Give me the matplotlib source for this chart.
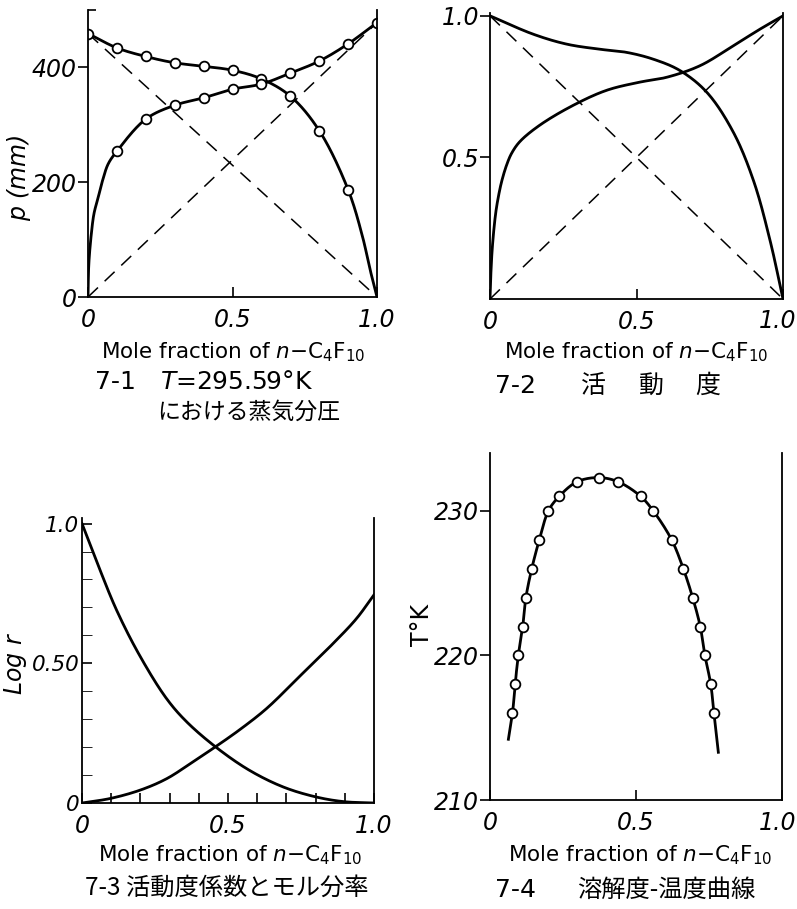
import matplotlib.pyplot as plt
import numpy as np

plt.rcParams['font.family'] = ['DejaVu Sans', 'Noto Sans CJK JP']
plt.rcParams['mathtext.fontset'] = 'dejavusans'
plt.rcParams['axes.linewidth'] = 1.3

#%% data
# 7-1 partial pressures (mm) vs mole fraction of n-C4F10
p1_mark_x = [0.0, 0.1, 0.2, 0.3, 0.4, 0.5, 0.6, 0.7, 0.8, 0.9]
p1_mark_y = [459, 434, 419, 408, 402, 395, 380, 350, 290, 187]
p1_line_x = [0.0, 0.1, 0.2, 0.3, 0.4, 0.5, 0.6, 0.7, 0.8, 0.9, 0.95, 0.975, 1.0]
p1_line_y = [459, 434, 419, 408, 402, 395, 380, 350, 290, 187, 105, 50, 0]

p2_mark_x = [0.1, 0.2, 0.3, 0.4, 0.5, 0.6, 0.7, 0.8, 0.9, 1.0]
p2_mark_y = [254, 310, 334, 347, 362, 371, 390, 411, 441, 478]
p2_line_x = [0.0, 0.003, 0.013, 0.021, 0.036, 0.051, 0.07, 0.1, 0.2, 0.3, 0.4, 0.5, 0.6, 0.7, 0.8, 0.9, 1.0]
p2_line_y = [0, 59, 117, 146, 175, 204, 232, 254, 310, 334, 347, 362, 371, 390, 411, 441, 478]

# 7-2 activities
a1_x = [0.0, 0.148, 0.262, 0.375, 0.466, 0.557, 0.648, 0.74, 0.83, 0.90, 0.956, 1.0]
a1_y = [1.0, 0.935, 0.90, 0.882, 0.871, 0.847, 0.807, 0.73, 0.59, 0.416, 0.206, 0.0]
a2_x = [0.0, 0.002, 0.008, 0.019, 0.028, 0.040, 0.057, 0.074, 0.102, 0.17,
        0.284, 0.398, 0.512, 0.603, 0.717, 0.83, 0.92, 1.0]
a2_y = [0.0, 0.066, 0.183, 0.30, 0.358, 0.416, 0.474, 0.515, 0.556, 0.614,
        0.684, 0.737, 0.766, 0.783, 0.824, 0.894, 0.952, 1.0]

# 7-3 log activity coefficients
g1_x = [0.0, 0.05, 0.119, 0.199, 0.29, 0.358, 0.461, 0.575, 0.69, 0.80, 0.895, 1.0]
g1_y = [1.0, 0.865, 0.689, 0.525, 0.373, 0.291, 0.198, 0.116, 0.057, 0.022, 0.005, 0.0]
g2_x = [0.0, 0.096, 0.199, 0.29, 0.381, 0.461, 0.541, 0.632, 0.747, 0.861, 0.94, 1.0]
g2_y = [0.0, 0.016, 0.046, 0.087, 0.148, 0.204, 0.263, 0.338, 0.455, 0.572, 0.66, 0.745]

# 7-4 solubility - temperature
s_mark_x = [0.077, 0.086, 0.097, 0.112, 0.123, 0.143, 0.169, 0.20, 0.237, 0.297, 0.372,
            0.44, 0.516, 0.559, 0.622, 0.662, 0.694, 0.72, 0.736, 0.756, 0.767]
s_mark_y = [216.0, 218.0, 220.0, 222.0, 224.0, 226.0, 228.0, 230.0, 231.0, 232.0, 232.3,
            232.0, 231.0, 230.0, 228.0, 226.0, 224.0, 222.0, 220.0, 218.0, 216.0]
s_end_x = [0.063, 0.782]
s_end_y = [214.2, 213.3]

W, H = 797, 909


def px(x, y):
    return x / W, 1 - y / H


def box(l, t, r, b):
    return [l / W, 1 - b / H, (r - l) / W, (b - t) / H]


def smooth(x, y, xr, yr, n=25):
    # centripetal catmull-rom through the read points, just for drawing
    P = np.column_stack([(np.asarray(x, float) - xr[0]) / (xr[1] - xr[0]),
                         (np.asarray(y, float) - yr[0]) / (yr[1] - yr[0])])
    P = np.vstack([2 * P[0] - P[1], P, 2 * P[-1] - P[-2]])
    out = [P[1]]
    for i in range(1, len(P) - 2):
        p0, p1, p2, p3 = P[i - 1], P[i], P[i + 1], P[i + 2]
        t0 = 0.0
        t1 = t0 + np.linalg.norm(p1 - p0) ** 0.5 + 1e-9
        t2 = t1 + np.linalg.norm(p2 - p1) ** 0.5 + 1e-9
        t3 = t2 + np.linalg.norm(p3 - p2) ** 0.5 + 1e-9
        t = np.linspace(t1, t2, n)[1:, None]
        a1 = (t1 - t) / (t1 - t0) * p0 + (t - t0) / (t1 - t0) * p1
        a2 = (t2 - t) / (t2 - t1) * p1 + (t - t1) / (t2 - t1) * p2
        a3 = (t3 - t) / (t3 - t2) * p2 + (t - t2) / (t3 - t2) * p3
        b1 = (t2 - t) / (t2 - t0) * a1 + (t - t0) / (t2 - t0) * a2
        b2 = (t3 - t) / (t3 - t1) * a2 + (t - t1) / (t3 - t1) * a3
        c = (t2 - t) / (t2 - t1) * b1 + (t - t1) / (t2 - t1) * b2
        out.extend(c)
    out = np.array(out)
    return (out[:, 0] * (xr[1] - xr[0]) + xr[0],
            out[:, 1] * (yr[1] - yr[0]) + yr[0])


fig = plt.figure(figsize=(W / 100, H / 100), dpi=100)

tick_font = dict(fontsize=17, style='italic')
xlab = 'Mole fraction of $\\mathit{n}$$-$C$_4$F$_{10}$'
cjk = ['Noto Sans CJK JP', 'DejaVu Sans']
dash = (9, 6)


def base(ax, last=True):
    ax.spines['top'].set_visible(False)
    ax.set_xlim(0, 1)
    ax.set_xticks([0, 0.5, 1.0])
    ax.set_xticklabels(['0', '0.5', '1.0' if last else ''], **tick_font)
    ax.tick_params(axis='x', direction='in', length=7, width=1.2, pad=8)
    ax.tick_params(axis='y', width=1.2)


#%% 7-1
ax1 = fig.add_axes(box(88, 10, 377, 297))
base(ax1)
ax1.set_ylim(0, 500)
ax1.plot([0, 1], [p1_mark_y[0], 0], 'k', lw=1.1, dashes=dash)
ax1.plot([0, 1], [0, p2_mark_y[-1]], 'k', lw=1.1, dashes=dash)
ax1.plot(*smooth(p1_line_x, p1_line_y, (0, 1), (0, 500)), 'k-', lw=2)
ax1.plot(*smooth(p2_line_x, p2_line_y, (0, 1), (0, 500)), 'k-', lw=2)
ax1.plot(p1_mark_x, p1_mark_y, 'o', mfc='white', mec='k', mew=1.3, ms=7)
ax1.plot(p2_mark_x, p2_mark_y, 'o', mfc='white', mec='k', mew=1.3, ms=7)
ax1.set_yticks([0, 200, 400])
ax1.set_yticklabels(['0', '200', '400'], **tick_font)
ax1.tick_params(axis='y', direction='out', length=7, pad=1)
ax1.set_yticks([500], minor=True)
ax1.tick_params(axis='y', which='minor', direction='in', length=6, width=1.2)
ax1.set_ylabel('$\\mathit{p}$ (mm)', fontsize=17, style='italic')
ax1.yaxis.set_label_coords((33 - 88) / 289, (297 - 178) / 287)
fig.text(*px(233, 352), xlab, fontsize=15.5, ha='center', va='center')
fig.text(*px(95, 382), '7-1', fontsize=18, ha='left', va='center')
fig.text(*px(160, 382), '$T$=295.59°K', fontsize=18, ha='left', va='center')
fig.text(*px(157, 412), 'における蒸気分圧', fontsize=16.5, ha='left', va='center', family=cjk)

#%% 7-2
ax2 = fig.add_axes(box(490, 13, 783, 299))
base(ax2, last=False)
ax2.set_ylim(0, 1.01)
ax2.plot([0, 1], [1, 0], 'k', lw=1.1, dashes=dash)
ax2.plot([0, 1], [0, 1], 'k', lw=1.1, dashes=dash)
ax2.plot(*smooth(a1_x, a1_y, (0, 1), (0, 1)), 'k-', lw=2)
ax2.plot(*smooth(a2_x, a2_y, (0, 1), (0, 1)), 'k-', lw=2)
ax2.set_yticks([0.5, 1.0])
ax2.set_yticklabels(['0.5', '1.0'], **tick_font)
ax2.tick_params(axis='y', direction='out', length=7, pad=1)
fig.text(*px(796, 321), '1.0', ha='right', va='center', **tick_font)
fig.text(*px(636, 352), xlab, fontsize=15.5, ha='center', va='center')
fig.text(*px(495, 386), '7-2', fontsize=18, ha='left', va='center')
for ch, cx in zip(['活', '動', '度'], [593, 651, 708]):
    fig.text(*px(cx, 386), ch, fontsize=18, ha='center', va='center', family=cjk)

#%% 7-3
ax3 = fig.add_axes(box(82, 518, 374, 803))
base(ax3)
ax3.set_ylim(0, 1.02)
ax3.plot(*smooth(g1_x, g1_y, (0, 1), (0, 1)), 'k-', lw=2)
ax3.plot(*smooth(g2_x, g2_y, (0, 1), (0, 1)), 'k-', lw=2)
ax3.set_yticks([0, 0.5, 1.0])
ax3.set_yticklabels(['0', '0.50', '1.0'], fontsize=15.5, style='italic')
ax3.set_yticks(np.arange(0.1, 1.0, 0.1), minor=True)
ax3.set_xticks(np.arange(0.1, 1.0, 0.1), minor=True)
ax3.tick_params(axis='y', which='both', direction='in', length=7, pad=2)
ax3.tick_params(axis='x', which='minor', direction='in', length=7, width=1.2)
ax3.set_ylabel('$\\mathit{Log\\ r}$', fontsize=17)
ax3.yaxis.set_label_coords((29 - 82) / 292, (803 - 663) / 285)
fig.text(*px(230, 855), xlab, fontsize=15.5, ha='center', va='center')
fig.text(*px(85, 888), '7-3 活動度係数とモル分率', fontsize=17.5, ha='left', va='center', family=cjk)

#%% 7-4
ax4 = fig.add_axes(box(490, 453, 782, 800))
base(ax4, last=False)
ax4.set_ylim(210, 234)
ax4.plot(*smooth([s_end_x[0]] + s_mark_x + [s_end_x[1]],
                 [s_end_y[0]] + s_mark_y + [s_end_y[1]], (0, 1), (210, 234)), 'k-', lw=2)
ax4.plot(s_mark_x, s_mark_y, 'o', mfc='white', mec='k', mew=1.3, ms=7)
ax4.set_yticks([210, 220, 230])
ax4.set_yticklabels(['210', '220', '230'], **tick_font)
ax4.tick_params(axis='y', direction='out', length=7, pad=1)
ax4.set_ylabel('T°K', fontsize=17)
ax4.yaxis.set_label_coords((434 - 490) / 292, (800 - 625) / 347)
fig.text(*px(796, 823), '1.0', ha='right', va='center', **tick_font)
fig.text(*px(640, 855), xlab, fontsize=15.5, ha='center', va='center')
fig.text(*px(495, 890), '7-4', fontsize=18, ha='left', va='center')
fig.text(*px(577, 890), '溶解度-温度曲線', fontsize=17.5, ha='left', va='center', family=cjk)

fig.savefig('out.png', dpi=100)
